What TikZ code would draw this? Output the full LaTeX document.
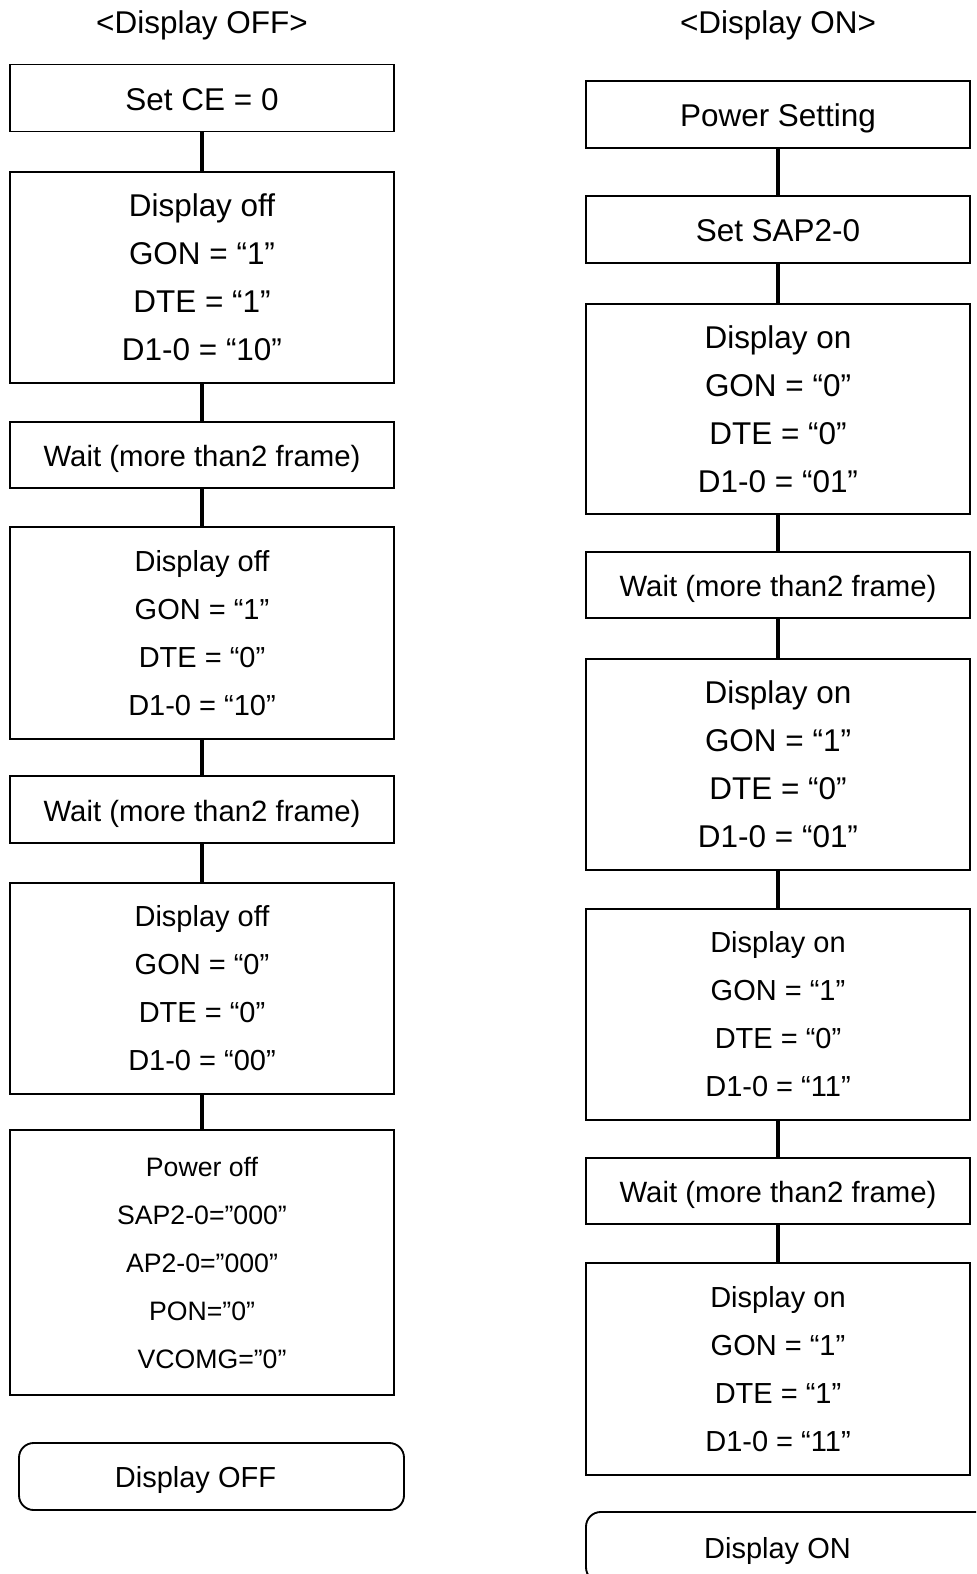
\documentclass[tikz,border=0pt]{standalone}
\usepackage{fontspec}
\setmainfont{Liberation Sans}
\begin{document}
\begin{tikzpicture}[x=0.75pt,y=-0.75pt,
  box/.style={draw=black,line width=1.4pt,minimum width=288pt,inner sep=0pt,outer sep=0pt,align=center},
  oneline/.style={box,font=\fontsize{23.6}{36}\selectfont,text height=18.6pt,text depth=0pt},
  waitbox/.style={box,font=\fontsize{22}{36}\selectfont,text height=17.3pt,text depth=0pt},
  multibig/.style={box,font=\fontsize{23.6}{36}\selectfont,yshift=-1pt},
  multismall/.style={box,font=\fontsize{21.75}{36}\selectfont,yshift=-1pt},
  powerbox/.style={box,font=\fontsize{20}{36}\selectfont},
  term/.style={draw=black,line width=1.4pt,rounded corners=11pt,inner sep=0pt,outer sep=0pt,font=\fontsize{21.75}{26}\selectfont,text height=16.6pt,text depth=0pt},
  conn/.style={line width=3.5pt},
  title/.style={font=\fontsize{23.6}{28}\selectfont,anchor=base,inner sep=0pt}]
\useasboundingbox (0,0) rectangle (976,1574);
\clip (0,0) rectangle (976,1574);
% titles
\node[title] (T1) at (202,33) {<Display OFF>};
\node[title] (T2) at (778,33) {<Display ON>};
% left column
\node[oneline,minimum height=50.25pt] (L1) at (202,98) {Set CE = 0};
\node[multibig,minimum height=158.25pt] (L2) at (202,276) {Display off\\GON = “1”\\DTE = “1”\\D1-0 = “10”};
\node[waitbox,minimum height=49.75pt] (L3) at (202,455) {Wait (more than2 frame)};
\node[multismall,minimum height=159pt] (L4) at (202,632) {Display off\\GON = “1”\\DTE = “0”\\D1-0 = “10”};
\node[waitbox,minimum height=50.25pt] (L5) at (202,809.5) {Wait (more than2 frame)};
\node[multismall,minimum height=158.25pt] (L6) at (202,987) {Display off\\GON = “0”\\DTE = “0”\\D1-0 = “00”};
\node[powerbox,minimum height=198.75pt] (L7) at (202,1262.5) {Power off\\SAP2-0=”000”\\AP2-0=”000”\\PON=”0”\\\hspace*{15pt}VCOMG=”0”};
\node[term,minimum width=288.75pt,minimum height=50.25pt] (L8) at (211.5,1476.5) {Display OFF\hspace*{24pt}};
% right column
\node[oneline,minimum height=50.25pt] (R1) at (778,114.3) {Power Setting};
\node[oneline,minimum height=50.25pt] (R2) at (778,229.3) {Set SAP2-0};
\node[multibig,minimum height=157.5pt] (R3) at (778,408) {Display on\\GON = “0”\\DTE = “0”\\D1-0 = “01”};
\node[waitbox,minimum height=50pt] (R4) at (778,585) {Wait (more than2 frame)};
\node[multibig,minimum height=158.25pt] (R5) at (778,763) {Display on\\GON = “1”\\DTE = “0”\\D1-0 = “01”};
\node[multismall,minimum height=158.25pt] (R6) at (778,1013) {Display on\\GON = “1”\\DTE = “0”\\D1-0 = “11”};
\node[waitbox,minimum height=50pt] (R7) at (778,1191) {Wait (more than2 frame)};
\node[multismall,minimum height=159pt] (R8) at (778,1368) {Display on\\GON = “1”\\DTE = “1”\\D1-0 = “11”};
\node[term,minimum width=303pt,minimum height=52.5pt] (R9) at (788,1547) {Display ON\hspace*{15.75pt}};
% connectors
\draw[conn] (L1) -- (L2);
\draw[conn] (L2) -- (L3);
\draw[conn] (L3) -- (L4);
\draw[conn] (L4) -- (L5);
\draw[conn] (L5) -- (L6);
\draw[conn] (L6) -- (L7);
\draw[conn] (R1) -- (R2);
\draw[conn] (R2) -- (R3);
\draw[conn] (R3) -- (R4);
\draw[conn] (R4) -- (R5);
\draw[conn] (R5) -- (R6);
\draw[conn] (R6) -- (R7);
\draw[conn] (R7) -- (R8);
\end{tikzpicture}
\end{document}
